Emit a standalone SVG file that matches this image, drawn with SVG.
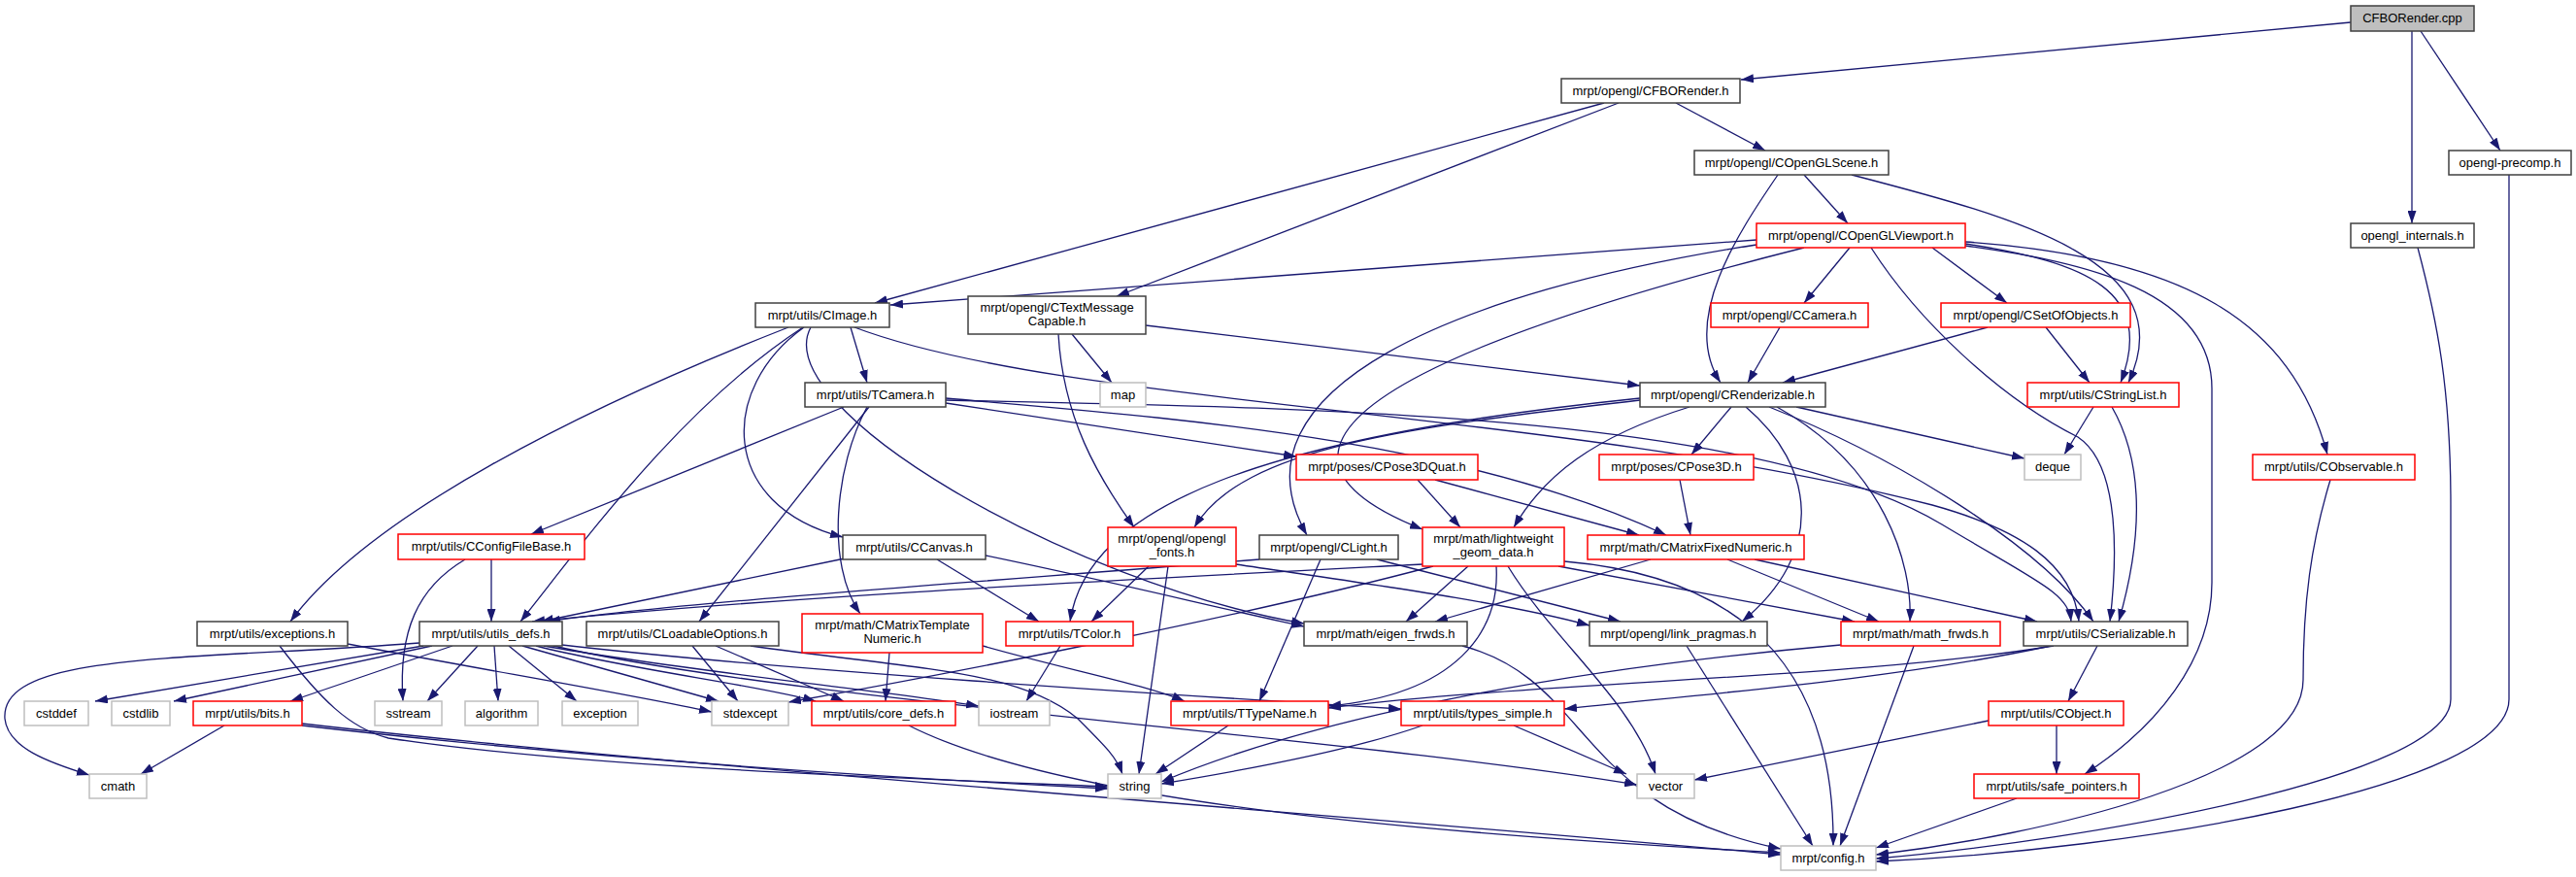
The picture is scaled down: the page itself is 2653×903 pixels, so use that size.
<svg xmlns="http://www.w3.org/2000/svg" width="2653" height="903" viewBox="0 0 2653 903">
<defs>
<marker id="a" markerUnits="userSpaceOnUse" markerWidth="13" markerHeight="9" refX="13" refY="4.5" orient="auto"><path d="M0,0 L13,4.5 L0,9 z" fill="#191970"/></marker>
<style>
.n rect{fill:#fff;stroke:#404040;stroke-width:1.5}
.r rect{stroke:#ff0000}
.g rect{stroke:#bfbfbf}
.root rect{fill:#bfbfbf}
text{font-family:"Liberation Sans",Arial,sans-serif;font-size:13px;fill:#000;text-anchor:middle}
#edges path{fill:none;stroke:#191970;stroke-width:1.3;marker-end:url(#a)}
</style>
</defs>
<rect width="2653" height="903" fill="#fff"/>
<g id="edges">
<path d="M2421,23 L1793,82"/>
<path d="M2484,32 L2484,230"/>
<path d="M2493,32 L2575,155"/>
<path d="M1726,106 L1818,155"/>
<path d="M1652,106 L901,312"/>
<path d="M1667,106 L1150,305"/>
<path d="M1858,180 L1903,230"/>
<path d="M1831,180 C1790,240 1730,330 1772,394"/>
<path d="M1907,180 C2080,225 2250,270 2192,394"/>
<path d="M1809,247 L917,314"/>
<path d="M1809,252 C1500,300 1260,400 1346,551"/>
<path d="M1858,255 C1600,320 1200,440 1465,545"/>
<path d="M1905,255 L1858,312"/>
<path d="M1927,255 C1975,330 2060,410 2140,450 C2185,480 2180,580 2173,640"/>
<path d="M1990,255 L2067,312"/>
<path d="M2024,251 C2150,270 2220,300 2184,394"/>
<path d="M2024,253 C2150,270 2278,300 2278,400 L2278,600 C2278,680 2220,750 2147,797"/>
<path d="M2024,249 C2250,265 2360,330 2397,468"/>
<path d="M876,337 L893,394"/>
<path d="M828,337 C740,400 740,520 868,553"/>
<path d="M812,337 C600,420 380,530 299,640"/>
<path d="M827,337 C700,420 600,560 536,640"/>
<path d="M835,337 C790,420 1100,600 1343,642"/>
<path d="M880,337 C1100,420 1600,420 1990,520 C2080,545 2135,580 2141,640"/>
<path d="M1104,344 L1145,394"/>
<path d="M1090,344 C1095,430 1130,490 1168,543"/>
<path d="M1180,335 L1689,397"/>
<path d="M1833,337 L1800,394"/>
<path d="M2047,337 L1836,394"/>
<path d="M2107,337 L2152,394"/>
<path d="M869,419 L547,550"/>
<path d="M895,419 L720,640"/>
<path d="M893,419 C860,480 850,580 886,632"/>
<path d="M974,415 L1335,470"/>
<path d="M974,410 C1200,430 1500,450 1716,551"/>
<path d="M974,412 C1300,420 1800,420 2000,540 C2100,600 2130,610 2133,640"/>
<path d="M1689,412 C1450,440 1280,460 1230,543"/>
<path d="M1689,410 C1300,450 1120,520 1102,640"/>
<path d="M1783,419 L1742,468"/>
<path d="M1740,419 C1640,450 1590,490 1559,543"/>
<path d="M1850,419 L2085,472"/>
<path d="M1822,419 C1950,470 2100,560 2156,640"/>
<path d="M1798,419 C1870,480 1880,570 1794,640"/>
<path d="M1830,419 C1940,480 1970,580 1967,640"/>
<path d="M1460,494 L1504,543"/>
<path d="M1478,494 L1688,551"/>
<path d="M1730,494 L1741,551"/>
<path d="M2156,419 L2126,468"/>
<path d="M2175,419 C2210,480 2205,560 2182,640"/>
<path d="M2400,494 C2380,560 2372,620 2372,700 C2372,800 2100,860 1932,880"/>
<path d="M2490,255 C2510,330 2524,400 2524,520 L2524,720 C2524,800 2150,865 1932,884"/>
<path d="M2584,180 L2584,720 C2584,810 2200,875 1932,887"/>
<path d="M506,576 L506,640"/>
<path d="M479,576 C430,605 410,650 415,722"/>
<path d="M870,575 L557,640"/>
<path d="M965,576 L1070,640"/>
<path d="M1015,572 C1150,600 1250,625 1343,645"/>
<path d="M1183,583 L1124,640"/>
<path d="M1203,583 L1173,797"/>
<path d="M1273,581 C1400,600 1550,620 1637,644"/>
<path d="M1297,576 C1000,600 700,620 564,640"/>
<path d="M1360,576 L1297,722"/>
<path d="M1418,576 L1669,640"/>
<path d="M1465,581 C1100,600 800,615 548,640"/>
<path d="M1476,583 C1300,630 1000,690 812,723"/>
<path d="M1512,583 L1448,640"/>
<path d="M1541,583 C1545,650 1500,715 1368,727"/>
<path d="M1553,583 C1600,660 1680,720 1705,797"/>
<path d="M1605,583 L1910,640"/>
<path d="M1611,578 C1750,590 1890,650 1888,871"/>
<path d="M1700,576 L1478,640"/>
<path d="M1779,576 L1935,640"/>
<path d="M1807,576 L2098,640"/>
<path d="M358,663 C500,690 650,715 733,733"/>
<path d="M288,665 C330,720 360,750 400,760 C600,790 900,800 1141,810"/>
<path d="M436,665 L98,722"/>
<path d="M445,665 L179,722"/>
<path d="M432,662 C200,680 0,670 5,740 C8,770 50,785 92,798"/>
<path d="M466,665 L299,722"/>
<path d="M492,665 L440,722"/>
<path d="M509,665 L513,722"/>
<path d="M524,665 L594,722"/>
<path d="M538,665 L740,722"/>
<path d="M552,665 C650,690 780,705 840,722"/>
<path d="M560,665 C700,690 900,710 1008,727"/>
<path d="M566,664 C800,720 1400,760 1686,808"/>
<path d="M570,663 C800,690 1200,715 1443,730"/>
<path d="M231,747 L145,797"/>
<path d="M311,747 C600,780 900,800 1141,812"/>
<path d="M311,745 C700,790 1400,840 1834,880"/>
<path d="M713,665 L760,722"/>
<path d="M737,665 L869,722"/>
<path d="M773,665 C950,690 1050,690 1110,740 C1140,770 1150,780 1156,797"/>
<path d="M916,672 L912,722"/>
<path d="M1012,665 C1100,690 1180,705 1220,722"/>
<path d="M1092,665 L1057,722"/>
<path d="M936,747 C1100,830 1500,860 1834,878"/>
<path d="M1265,747 L1190,797"/>
<path d="M1465,747 C1400,770 1300,790 1196,807"/>
<path d="M1559,747 L1675,797"/>
<path d="M2160,665 L2130,722"/>
<path d="M2115,665 C1900,700 1600,700 1368,729"/>
<path d="M2112,665 C1950,700 1750,715 1611,730"/>
<path d="M2048,742 L1745,803"/>
<path d="M2118,747 L2118,797"/>
<path d="M2077,822 L1932,873"/>
<path d="M1506,665 C1640,700 1620,830 1834,874"/>
<path d="M1737,665 L1867,871"/>
<path d="M1971,665 L1895,871"/>
<path d="M1896,664 C1600,690 1350,740 1196,805"/>
</g>
<g id="n_cpp" class="n root"><rect x="2421" y="6" width="127" height="26"/><text x="2484.5" y="23">CFBORender.cpp</text></g>
<g id="n_fbo" class="n"><rect x="1608" y="81" width="184" height="25"/><text x="1700" y="97.5">mrpt/opengl/CFBORender.h</text></g>
<g id="n_scene" class="n"><rect x="1745" y="155" width="200" height="25"/><text x="1845" y="171.5">mrpt/opengl/COpenGLScene.h</text></g>
<g id="n_precomp" class="n"><rect x="2522" y="155" width="126" height="25"/><text x="2585" y="171.5">opengl-precomp.h</text></g>
<g id="n_viewport" class="n r"><rect x="1809" y="230" width="215" height="25"/><text x="1916.5" y="246.5">mrpt/opengl/COpenGLViewport.h</text></g>
<g id="n_internals" class="n"><rect x="2421" y="230" width="127" height="25"/><text x="2484.5" y="246.5">opengl_internals.h</text></g>
<g id="n_cimage" class="n"><rect x="778" y="312" width="138" height="25"/><text x="847" y="328.5">mrpt/utils/CImage.h</text></g>
<g id="n_textmsg" class="n"><rect x="997" y="305" width="183" height="39"/><text x="1088.5" y="321">mrpt/opengl/CTextMessage</text><text x="1088.5" y="335">Capable.h</text></g>
<g id="n_ccamera" class="n r"><rect x="1762" y="312" width="162" height="25"/><text x="1843" y="328.5">mrpt/opengl/CCamera.h</text></g>
<g id="n_setobj" class="n r"><rect x="1999" y="312" width="195" height="25"/><text x="2096.5" y="328.5">mrpt/opengl/CSetOfObjects.h</text></g>
<g id="n_tcamera" class="n"><rect x="829" y="394" width="145" height="25"/><text x="901.5" y="410.5">mrpt/utils/TCamera.h</text></g>
<g id="n_map" class="n g"><rect x="1133" y="394" width="47" height="25"/><text x="1156.5" y="410.5">map</text></g>
<g id="n_render" class="n"><rect x="1689" y="394" width="191" height="25"/><text x="1784.5" y="410.5">mrpt/opengl/CRenderizable.h</text></g>
<g id="n_strlist" class="n r"><rect x="2088" y="394" width="156" height="25"/><text x="2166" y="410.5">mrpt/utils/CStringList.h</text></g>
<g id="n_quat" class="n r"><rect x="1335" y="468" width="187" height="26"/><text x="1428.5" y="485">mrpt/poses/CPose3DQuat.h</text></g>
<g id="n_pose3d" class="n r"><rect x="1647" y="468" width="159" height="26"/><text x="1726.5" y="485">mrpt/poses/CPose3D.h</text></g>
<g id="n_deque" class="n g"><rect x="2085" y="468" width="58" height="26"/><text x="2114" y="485">deque</text></g>
<g id="n_observ" class="n r"><rect x="2320" y="468" width="167" height="26"/><text x="2403.5" y="485">mrpt/utils/CObservable.h</text></g>
<g id="n_cfgfile" class="n r"><rect x="410" y="550" width="192" height="26"/><text x="506" y="567">mrpt/utils/CConfigFileBase.h</text></g>
<g id="n_canvas" class="n"><rect x="868" y="551" width="147" height="25"/><text x="941.5" y="567.5">mrpt/utils/CCanvas.h</text></g>
<g id="n_fonts" class="n r"><rect x="1141" y="543" width="132" height="40"/><text x="1207" y="559">mrpt/opengl/opengl</text><text x="1207" y="573">_fonts.h</text></g>
<g id="n_light" class="n"><rect x="1297" y="551" width="143" height="25"/><text x="1368.5" y="567.5">mrpt/opengl/CLight.h</text></g>
<g id="n_lwgeom" class="n r"><rect x="1465" y="543" width="146" height="40"/><text x="1538" y="559">mrpt/math/lightweight</text><text x="1538" y="573">_geom_data.h</text></g>
<g id="n_cmfixed" class="n r"><rect x="1635" y="551" width="223" height="25"/><text x="1746.5" y="567.5">mrpt/math/CMatrixFixedNumeric.h</text></g>
<g id="n_except" class="n"><rect x="203" y="640" width="155" height="25"/><text x="280.5" y="656.5">mrpt/utils/exceptions.h</text></g>
<g id="n_udefs" class="n"><rect x="432" y="640" width="147" height="25"/><text x="505.5" y="656.5">mrpt/utils/utils_defs.h</text></g>
<g id="n_loadopt" class="n"><rect x="604" y="640" width="198" height="25"/><text x="703" y="656.5">mrpt/utils/CLoadableOptions.h</text></g>
<g id="n_cmtempl" class="n r"><rect x="826" y="632" width="186" height="40"/><text x="919" y="648">mrpt/math/CMatrixTemplate</text><text x="919" y="662">Numeric.h</text></g>
<g id="n_tcolor" class="n r"><rect x="1036" y="640" width="131" height="25"/><text x="1101.5" y="656.5">mrpt/utils/TColor.h</text></g>
<g id="n_eigen" class="n"><rect x="1343" y="640" width="168" height="25"/><text x="1427" y="656.5">mrpt/math/eigen_frwds.h</text></g>
<g id="n_linkp" class="n"><rect x="1637" y="640" width="183" height="25"/><text x="1728.5" y="656.5">mrpt/opengl/link_pragmas.h</text></g>
<g id="n_mathfw" class="n r"><rect x="1896" y="640" width="164" height="25"/><text x="1978" y="656.5">mrpt/math/math_frwds.h</text></g>
<g id="n_cserial" class="n"><rect x="2084" y="640" width="169" height="25"/><text x="2168.5" y="656.5">mrpt/utils/CSerializable.h</text></g>
<g id="n_cstddef" class="n g"><rect x="25" y="722" width="66" height="25"/><text x="58" y="738.5">cstddef</text></g>
<g id="n_cstdlib" class="n g"><rect x="115" y="722" width="60" height="25"/><text x="145" y="738.5">cstdlib</text></g>
<g id="n_bits" class="n r"><rect x="199" y="722" width="112" height="25"/><text x="255" y="738.5">mrpt/utils/bits.h</text></g>
<g id="n_sstream" class="n g"><rect x="386" y="722" width="69" height="25"/><text x="420.5" y="738.5">sstream</text></g>
<g id="n_algo" class="n g"><rect x="479" y="722" width="75" height="25"/><text x="516.5" y="738.5">algorithm</text></g>
<g id="n_exception" class="n g"><rect x="579" y="722" width="78" height="25"/><text x="618" y="738.5">exception</text></g>
<g id="n_stdexcept" class="n g"><rect x="733" y="722" width="79" height="25"/><text x="772.5" y="738.5">stdexcept</text></g>
<g id="n_coredefs" class="n r"><rect x="836" y="722" width="148" height="25"/><text x="910" y="738.5">mrpt/utils/core_defs.h</text></g>
<g id="n_iostream" class="n g"><rect x="1008" y="722" width="73" height="25"/><text x="1044.5" y="738.5">iostream</text></g>
<g id="n_ttypename" class="n r"><rect x="1206" y="722" width="162" height="25"/><text x="1287" y="738.5">mrpt/utils/TTypeName.h</text></g>
<g id="n_typessimple" class="n r"><rect x="1443" y="722" width="168" height="25"/><text x="1527" y="738.5">mrpt/utils/types_simple.h</text></g>
<g id="n_cobject" class="n r"><rect x="2048" y="722" width="139" height="25"/><text x="2117.5" y="738.5">mrpt/utils/CObject.h</text></g>
<g id="n_cmath" class="n g"><rect x="92" y="797" width="59" height="25"/><text x="121.5" y="813.5">cmath</text></g>
<g id="n_string" class="n g"><rect x="1141" y="797" width="55" height="25"/><text x="1168.5" y="813.5">string</text></g>
<g id="n_vector" class="n g"><rect x="1686" y="797" width="59" height="25"/><text x="1715.5" y="813.5">vector</text></g>
<g id="n_safeptr" class="n r"><rect x="2033" y="797" width="170" height="25"/><text x="2118" y="813.5">mrpt/utils/safe_pointers.h</text></g>
<g id="n_config" class="n g"><rect x="1834" y="871" width="98" height="25"/><text x="1883" y="887.5">mrpt/config.h</text></g>
</svg>
